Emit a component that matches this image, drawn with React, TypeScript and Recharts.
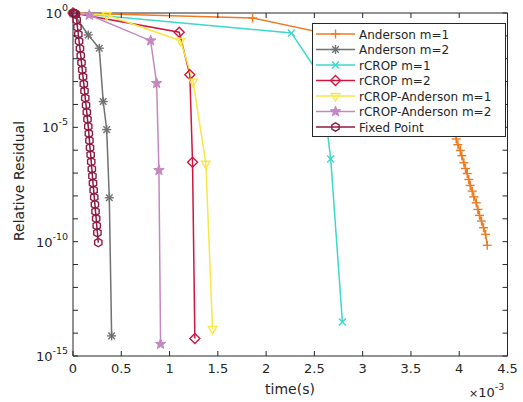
import React from 'react';
import { LineChart, Line, XAxis, YAxis, Legend, ReferenceLine } from 'recharts';

const FONT = '"DejaVu Sans", sans-serif';
const INK = '#262626';
const PLOT_W = 434.5;
const PLOT_H = 343;

// time axis in units of 1e-3 s
const xTicks = [0, 0.5, 1, 1.5, 2, 2.5, 3, 3.5, 4, 4.5];
// log10 of residual at every decade, labels only on some
const yDecades = [0, -1, -2, -3, -4, -5, -6, -7, -8, -9, -10, -11, -12, -13, -14, -15];
const yLabeled = [0, -5, -10, -15];

// values: time (1e-3 s) and log10(relative residual)
const andersonM1Time = [0, 1.86, 3.8, 3.95, 3.969, 3.986, 4.011, 4.027, 4.048, 4.065, 4.083, 4.099, 4.114, 4.135, 4.151, 4.176, 4.193, 4.21, 4.231, 4.252, 4.273, 4.29];
const andersonM1Exp = [0, -0.22, -1.96, -4.67, -5.51, -5.76, -6.01, -6.24, -6.55, -6.8, -7.02, -7.28, -7.54, -7.79, -8.04, -8.3, -8.59, -8.85, -9.1, -9.39, -9.68, -10.16];

const andersonM2Time = [0, 0.158, 0.272, 0.313, 0.349, 0.376, 0.4];
const andersonM2Exp = [0, -0.96, -1.54, -3.87, -5.1, -8.08, -14.12];

const rcropM1Time = [0, 2.262, 2.565, 2.669, 2.79];
const rcropM1Exp = [0, -0.87, -2.79, -6.38, -13.51];

const rcropM2Time = [0, 1.1, 1.21, 1.238, 1.262];
const rcropM2Exp = [0, -0.84, -2.7, -6.53, -14.23];

const rcropAndM1Time = [0, 0.349, 1.114, 1.244, 1.376, 1.445];
const rcropAndM1Exp = [0, -0.09, -1.21, -3.0, -6.59, -13.82];

const rcropAndM2Time = [0, 0.169, 0.804, 0.866, 0.89, 0.907];
const rcropAndM2Exp = [0, -0.09, -1.21, -3.07, -6.88, -14.48];

const fixedPointTime = [0, 0.01, 0.02, 0.03, 0.038, 0.046, 0.055, 0.063, 0.072, 0.08, 0.088, 0.096, 0.104, 0.112, 0.119, 0.127, 0.135, 0.143, 0.15, 0.158, 0.164, 0.17, 0.176, 0.183, 0.189, 0.195, 0.201, 0.207, 0.214, 0.22, 0.227, 0.233, 0.24, 0.246, 0.253, 0.262];
const fixedPointExp = [0, -0.01, -0.02, -0.05, -0.31, -0.62, -0.93, -1.24, -1.55, -1.86, -2.17, -2.48, -2.79, -3.1, -3.41, -3.72, -4.03, -4.34, -4.65, -4.96, -5.27, -5.58, -5.89, -6.2, -6.51, -6.82, -7.13, -7.44, -7.75, -8.06, -8.37, -8.68, -8.99, -9.3, -9.61, -10.04];

const toData = (time: number[], exp: number[]) => time.map((t, i) => ({ t, r: Math.pow(10, exp[i]) }));

const series = [
  { name: 'Anderson m=1', color: '#ee7b21', marker: 'plus', data: toData(andersonM1Time, andersonM1Exp) },
  { name: 'Anderson m=2', color: '#707172', marker: 'star', data: toData(andersonM2Time, andersonM2Exp) },
  { name: 'rCROP m=1', color: '#3cd8c8', marker: 'cross', data: toData(rcropM1Time, rcropM1Exp) },
  { name: 'rCROP m=2', color: '#cf163f', marker: 'diamond', data: toData(rcropM2Time, rcropM2Exp) },
  { name: 'rCROP-Anderson m=1', color: '#f8e744', marker: 'triangle', data: toData(rcropAndM1Time, rcropAndM1Exp) },
  { name: 'rCROP-Anderson m=2', color: '#c488c0', marker: 'pentagram', data: toData(rcropAndM2Time, rcropAndM2Exp) },
  { name: 'Fixed Point', color: '#8e1b40', marker: 'hexagon', data: toData(fixedPointTime, fixedPointExp) },
];

function poly(cx: number, cy: number, n: number, r: number, rot: number, inner?: number) {
  const pts: string[] = [];
  const count = inner ? n * 2 : n;
  for (let i = 0; i < count; i++) {
    const rr = inner && i % 2 === 1 ? inner : r;
    const a = rot + (i * Math.PI * 2) / count;
    pts.push(`${cx + rr * Math.cos(a)},${cy + rr * Math.sin(a)}`);
  }
  return pts.join(' ');
}

function Marker({ type, cx, cy, color }: { type: string; cx: number; cy: number; color: string }) {
  const sw = 1.4;
  if (type === 'plus') {
    return (
      <g stroke={color} strokeWidth={sw}>
        <line x1={cx - 4.5} x2={cx + 4.5} y1={cy} y2={cy} />
        <line x1={cx} x2={cx} y1={cy - 4.5} y2={cy + 4.5} />
      </g>
    );
  }
  if (type === 'star') {
    return (
      <g stroke={color} strokeWidth={sw}>
        <line x1={cx - 4.5} x2={cx + 4.5} y1={cy} y2={cy} />
        <line x1={cx} x2={cx} y1={cy - 4.5} y2={cy + 4.5} />
        <line x1={cx - 3.3} x2={cx + 3.3} y1={cy - 3.3} y2={cy + 3.3} />
        <line x1={cx - 3.3} x2={cx + 3.3} y1={cy + 3.3} y2={cy - 3.3} />
      </g>
    );
  }
  if (type === 'cross') {
    return (
      <g stroke={color} strokeWidth={sw}>
        <line x1={cx - 3.5} x2={cx + 3.5} y1={cy - 3.5} y2={cy + 3.5} />
        <line x1={cx - 3.5} x2={cx + 3.5} y1={cy + 3.5} y2={cy - 3.5} />
      </g>
    );
  }
  if (type === 'diamond') {
    return <polygon points={poly(cx, cy, 4, 5, -Math.PI / 2)} fill="none" stroke={color} strokeWidth={sw} />;
  }
  if (type === 'triangle') {
    return <polygon points={poly(cx, cy, 3, 5, Math.PI / 2)} fill="none" stroke={color} strokeWidth={sw} />;
  }
  if (type === 'pentagram') {
    return <polygon points={poly(cx, cy, 5, 5.5, -Math.PI / 2, 2.3)} fill={color} stroke={color} strokeWidth={1} />;
  }
  return <polygon points={poly(cx, cy, 6, 4.2, -Math.PI / 2)} fill="none" stroke={color} strokeWidth={sw} />;
}

function XTick(props: any) {
  const { x, y, payload } = props;
  return (
    <g>
      <line x1={x} x2={x} y1={y} y2={y - 5} stroke={INK} />
      <line x1={x} x2={x} y1={y - PLOT_H} y2={y - PLOT_H + 5} stroke={INK} />
      <text x={x} y={y + 17} textAnchor="middle" fontSize={13} fontFamily={FONT} fill={INK}>
        {payload.value}
      </text>
    </g>
  );
}

function YTick(props: any) {
  const { x, y, payload } = props;
  const e = Math.round(Math.log10(payload.value));
  return (
    <g>
      <line x1={x} x2={x + 5} y1={y} y2={y} stroke={INK} />
      <line x1={x + PLOT_W} x2={x + PLOT_W - 5} y1={y} y2={y} stroke={INK} />
      {yLabeled.includes(e) && (
        <text x={x - 5} y={y + 5} textAnchor="end" fontSize={13} fontFamily={FONT} fill={INK}>
          10
          <tspan dy={-7} fontSize={9.5}>{String(e)}</tspan>
        </text>
      )}
    </g>
  );
}

function XLabel() {
  return (
    <g fontFamily={FONT} fill={INK}>
      <text x={290} y={394} textAnchor="middle" fontSize={14}>time(s)</text>
      <text x={469} y={397} fontSize={13}>
        <tspan fontSize={11}>×</tspan>10
        <tspan dy={-7} fontSize={9.5}>-3</tspan>
      </text>
    </g>
  );
}

function YLabel() {
  return (
    <text x={0} y={0} transform="translate(24,181) rotate(-90)" textAnchor="middle" fontSize={14} fontFamily={FONT} fill={INK}>
      Relative Residual
    </text>
  );
}

function LegendBox() {
  return (
    <div style={{ width: 194, height: 114, background: '#fff', border: `1px solid ${INK}`, boxSizing: 'border-box' }}>
      <svg width={192} height={112}>
        {series.map((s, i) => {
          const y = 10 + i * 15.5;
          return (
            <g key={s.name}>
              <line x1={3} x2={42} y1={y} y2={y} stroke={s.color} strokeWidth={1.5} />
              <Marker type={s.marker} cx={22.5} cy={y} color={s.color} />
              <text x={46} y={y + 4.5} fontSize={12} fontFamily={FONT} fill={INK}>
                {s.name}
              </text>
            </g>
          );
        })}
      </svg>
    </div>
  );
}

export default function App() {
  return (
    <div style={{ position: 'absolute', left: 0, top: 0, background: '#fff' }}>
      <LineChart width={523} height={402} margin={{ top: 13, right: 15.5, bottom: 16, left: 13 }}>
        <XAxis
          dataKey="t"
          type="number"
          domain={[0, 4.5]}
          ticks={xTicks}
          interval={0}
          tickSize={0}
          tickMargin={0}
          tickLine={false}
          tick={XTick}
          axisLine={{ stroke: INK }}
          height={30}
          label={<XLabel />}
        />
        <YAxis
          type="number"
          scale="log"
          domain={[1e-15, 1]}
          ticks={yDecades.map((e) => Math.pow(10, e))}
          interval={0}
          tickSize={0}
          tickMargin={0}
          tickLine={false}
          tick={YTick}
          axisLine={{ stroke: INK }}
          width={60}
          label={<YLabel />}
        />
        <ReferenceLine y={1} stroke={INK} />
        <ReferenceLine x={4.5} stroke={INK} />
        {series.map((s) => (
          <Line
            key={s.name}
            data={s.data}
            dataKey="r"
            name={s.name}
            type="linear"
            stroke={s.color}
            strokeWidth={1.5}
            isAnimationActive={false}
            activeDot={false}
            dot={(p: any) => <Marker key={`${s.name}-${p.index}`} type={s.marker} cx={p.cx} cy={p.cy} color={s.color} />}
          />
        ))}
        <Legend
          content={<LegendBox />}
          layout="horizontal"
          verticalAlign="middle"
          align="center"
          wrapperStyle={{ left: 312, top: 23, width: 194, height: 114 }}
        />
      </LineChart>
    </div>
  );
}
